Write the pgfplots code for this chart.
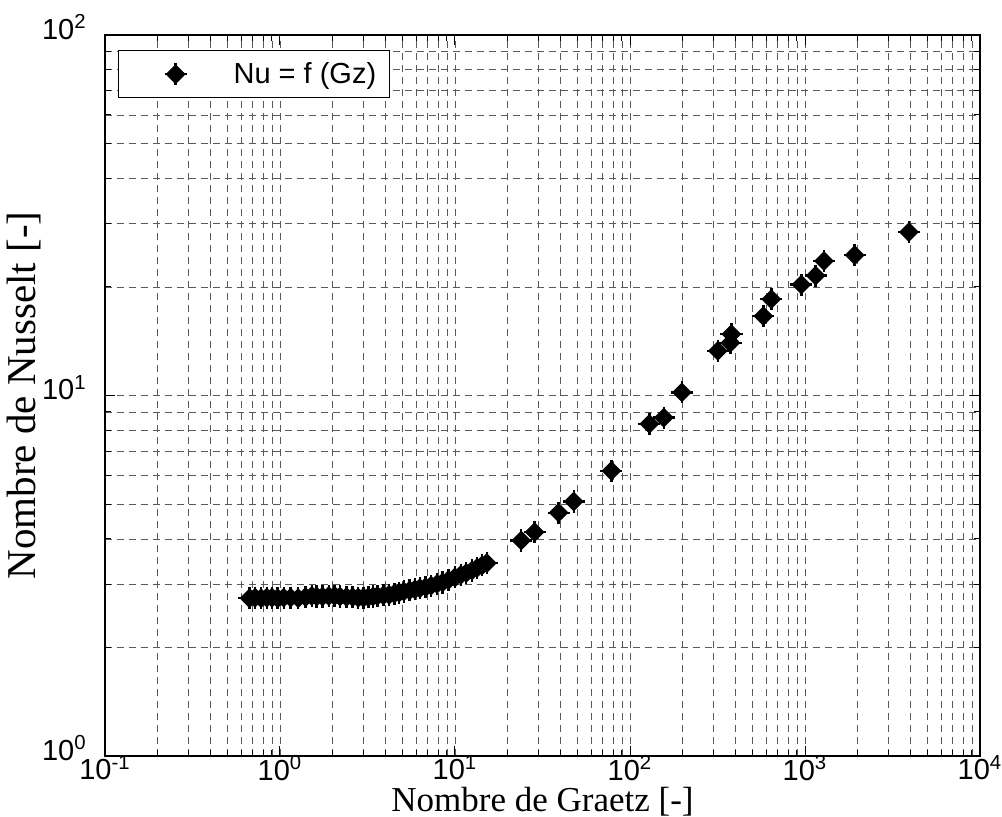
\documentclass[border=0pt]{standalone}
\usepackage{fontspec}
\setmainfont{Liberation Sans}
\newfontfamily\seriffont{Liberation Serif}
\usepackage{pgfplots}
\pgfplotsset{compat=1.18}
\usepackage{pgfplotstable}

\pgfdeclareplotmark{dplus}{%
  \pgfpathmoveto{\pgfpoint{0pt}{\pgfplotmarksize}}%
  \pgfpathlineto{\pgfpoint{\pgfplotmarksize}{0pt}}%
  \pgfpathlineto{\pgfpoint{0pt}{-\pgfplotmarksize}}%
  \pgfpathlineto{\pgfpoint{-\pgfplotmarksize}{0pt}}%
  \pgfpathclose
  \pgfusepathqfillstroke
  \pgfpathmoveto{\pgfpoint{0pt}{1.35\pgfplotmarksize}}%
  \pgfpathlineto{\pgfpoint{0pt}{-1.35\pgfplotmarksize}}%
  \pgfpathmoveto{\pgfpoint{1.35\pgfplotmarksize}{0pt}}%
  \pgfpathlineto{\pgfpoint{-1.35\pgfplotmarksize}{0pt}}%
  \pgfusepathqstroke
}

\pgfplotstableread{
gz nu
0.67 2.74
0.72 2.75
0.78 2.74
0.84 2.75
0.90 2.75
0.97 2.74
1.05 2.75
1.15 2.75
1.27 2.74
1.40 2.76
1.52 2.78
1.62 2.77
1.75 2.77
1.90 2.78
2.05 2.78
2.20 2.77
2.40 2.76
2.60 2.76
2.80 2.75
3.00 2.75
3.20 2.76
3.40 2.77
3.60 2.78
3.90 2.79
4.20 2.80
4.50 2.82
4.80 2.84
5.10 2.86
5.50 2.88
5.90 2.90
6.30 2.92
6.80 2.94
7.30 2.97
7.90 3.00
8.50 3.03
9.20 3.08
10.0 3.13
10.8 3.18
11.6 3.22
12.5 3.27
13.4 3.33
14.3 3.38
15.2 3.43
23.9 3.96
28.5 4.18
39.1 4.73
47.7 5.08
78.2 6.18
129 8.34
156 8.68
198 10.2
318 13.3
375 14.0
380 14.8
578 16.6
642 18.5
953 20.3
1151 21.5
1284 23.6
1922 24.5
3927 28.4
}\data

\begin{document}
\begin{tikzpicture}
\useasboundingbox (-52.5pt,-30pt) rectangle (448.5pt,378pt);
\begin{axis}[
  at={(0,0)}, anchor=south west,
  scale only axis, width=437.5pt, height=360.5pt,
  xmode=log, ymode=log,
  xmin=0.1, xmax=10000, ymin=1, ymax=100,
  xtick={0.1,1,10,100,1000,10000},
  xticklabels={10\textsuperscript{-1},10\textsuperscript{0},10\textsuperscript{1},10\textsuperscript{2},10\textsuperscript{3},10\textsuperscript{4}},
  ytick={1,10,100},
  yticklabels={10\textsuperscript{0},10\textsuperscript{1},10\textsuperscript{2}},
  minor xtick={0.2,0.3,0.4,0.5,0.6,0.7,0.8,0.9,2,3,4,5,6,7,8,9,20,30,40,50,60,70,80,90,200,300,400,500,600,700,800,900,2000,3000,4000,5000,6000,7000,8000,9000},
  minor ytick={2,3,4,5,6,7,8,9,20,30,40,50,60,70,80,90},
  grid=both,
  major grid style={dash pattern=on 3.5pt off 2.5pt, black!65, line width=0.45pt},
  minor grid style={dash pattern=on 3.5pt off 2.5pt, black!65, line width=0.45pt},
  tick style={black, line width=0.5pt},
  major tick length=5pt, minor tick length=3pt,
  axis line style={line width=0.6pt},
  tick label style={font=\fontsize{14.5}{14.5}\selectfont, inner sep=0pt},
  xticklabel style={anchor=north, yshift=0.5pt},
  yticklabel style={anchor=east, xshift=-9pt, yshift=4pt},
  xlabel={\seriffont Nombre de Graetz [-]},
  ylabel={\seriffont Nombre de Nusselt [-]},
  xlabel style={font=\fontsize{17.5}{17.5}\selectfont, inner sep=0pt, at={(axis description cs:0.5,-0.0763)}, anchor=base},
  ylabel style={font=\fontsize{20.5}{20.5}\selectfont, at={(axis description cs:-0.092,0.5)}, anchor=center},
  legend style={at={(rel axis cs:0.0149,0.979)}, anchor=north west, draw=black, line width=0.6pt,
    font=\fontsize{14.5}{14.5}\selectfont, inner sep=0pt, nodes={inner sep=0pt}},
  legend image code/.code={%
    \path[draw=none,fill=none] (-28.5pt,-11.75pt) rectangle (29pt,11.75pt);
    \draw[mark repeat=2,mark phase=2,#1] plot coordinates {(-10pt,0pt) (0pt,0pt) (10pt,0pt)};},
]
\addplot[only marks, mark=dplus, mark size=4.1pt, black,
  mark options={solid, line width=1.2pt, line join=round}] table[x=gz, y=nu] {\data};
\addlegendentry{Nu = f (Gz)\hspace*{6.5pt}}
\end{axis}
\end{tikzpicture}
\end{document}
